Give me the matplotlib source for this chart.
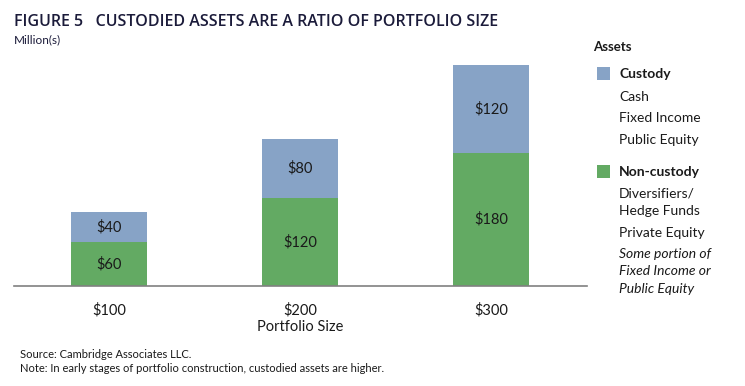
import matplotlib
matplotlib.use('Agg')
import matplotlib.pyplot as plt
from matplotlib.patches import Rectangle

# --- data ---------------------------------------------------------------
portfolio = ['$100', '$200', '$300']
non_custody = [60, 120, 180]
custody = [40, 80, 120]

BLUE = '#87a3c6'
GREEN = '#63aa63'
NAVY = '#1b1b3a'
TXT = '#1a1a1a'

plt.rcParams['font.family'] = ['Lato', 'DejaVu Sans']

fig = plt.figure(figsize=(7.45, 3.86), dpi=100)
ax = fig.add_axes([13.5 / 745, 100 / 386, 573 / 745, 236 / 386])

x = range(len(portfolio))
ax.bar(x, non_custody, width=0.40, color=GREEN, linewidth=0)
ax.bar(x, custody, width=0.40, bottom=non_custody, color=BLUE, linewidth=0)

for i, (nc, cu) in enumerate(zip(non_custody, custody)):
    ax.text(i, nc / 2, f'${nc}', ha='center', va='center', fontsize=10.5, color=TXT)
    ax.text(i, nc + cu / 2, f'${cu}', ha='center', va='center', fontsize=10.5, color=TXT)

ax.set_xlim(-0.5, 2.5)
ax.set_ylim(0, 320)
for s in ('top', 'right', 'left'):
    ax.spines[s].set_visible(False)
ax.spines['bottom'].set_color('#808080')
ax.spines['bottom'].set_linewidth(1.2)
ax.set_yticks([])
ax.set_xticks(list(x))
ax.set_xticklabels(portfolio, fontsize=10.5, color=TXT)
ax.tick_params(axis='x', length=0, pad=12)
ax.set_xlabel('Portfolio Size', fontsize=10.5, color=TXT, labelpad=2)

# --- titles & notes -----------------------------------------------------
def fy(py):
    return 1 - py / 386

fig.text(14 / 745, fy(22), 'FIGURE 5   CUSTODIED ASSETS ARE A RATIO OF PORTFOLIO SIZE',
         fontsize=11.5, color=NAVY, va='center', weight='semibold',
         family=['Open Sans', 'DejaVu Sans'])
fig.text(14 / 745, fy(40), 'Million(s)', fontsize=8.5, color=NAVY, va='center')
fig.text(20 / 745, fy(355), 'Source: Cambridge Associates LLC.', fontsize=8, color=TXT, va='center')
fig.text(20 / 745, fy(368), 'Note: In early stages of portfolio construction, custodied assets are higher.',
         fontsize=8, color=TXT, va='center')

# --- legend -------------------------------------------------------------
fig.text(593 / 745, fy(47), 'Assets', fontsize=9.5, weight='bold', color=TXT, va='center')
for py, col in ((67, BLUE), (165, GREEN)):
    fig.add_artist(Rectangle((597 / 745, fy(py + 13)), 13 / 745, 13 / 386,
                             transform=fig.transFigure, color=col, lw=0))

lx = 619 / 745
legend_rows = [
    (74, 'Custody', 'bold', 'normal'),
    (97, 'Cash', 'normal', 'normal'),
    (118, 'Fixed Income', 'normal', 'normal'),
    (140, 'Public Equity', 'normal', 'normal'),
    (172, 'Non-custody', 'bold', 'normal'),
    (194, 'Diversifiers/', 'normal', 'normal'),
    (211, 'Hedge Funds', 'normal', 'normal'),
    (233, 'Private Equity', 'normal', 'normal'),
    (254, 'Some portion of', 'normal', 'italic'),
    (271, 'Fixed Income or', 'normal', 'italic'),
    (289, 'Public Equity', 'normal', 'italic'),
]
for py, label, weight, style in legend_rows:
    fig.text(lx, fy(py), label, fontsize=10, weight=weight, style=style,
             color=TXT, va='center')

fig.savefig('out.png', dpi=100)
